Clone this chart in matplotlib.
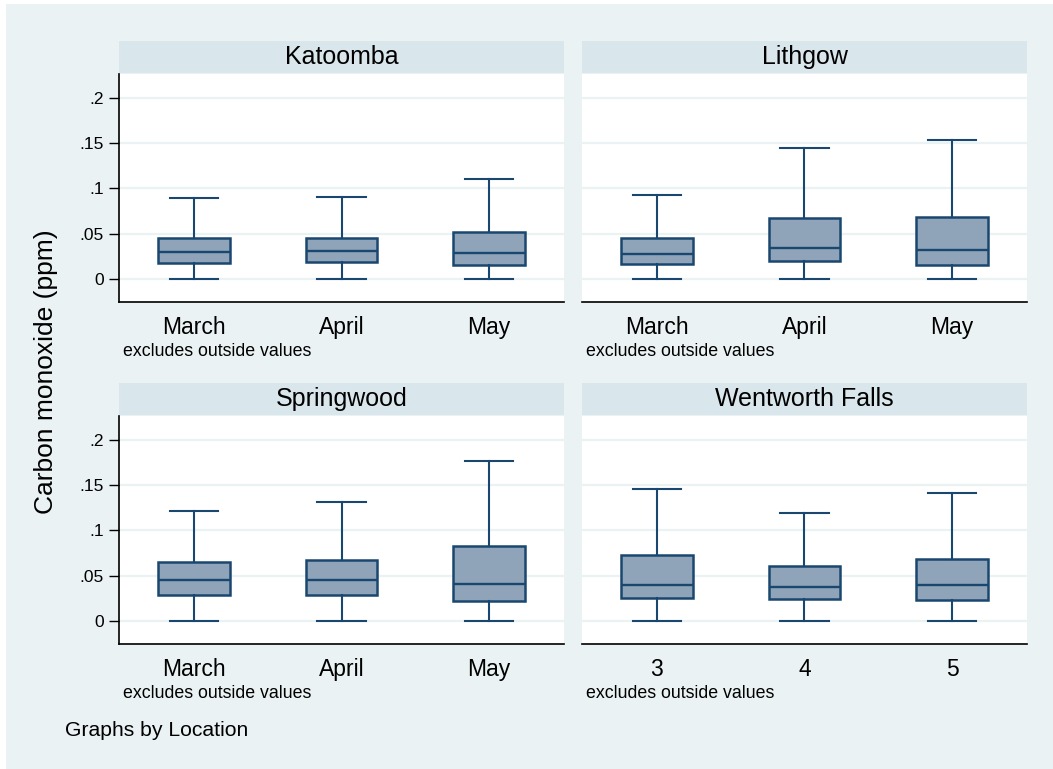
"""Carbon monoxide by month, one box plot panel per location (Stata s2color look)."""
import matplotlib
matplotlib.use("Agg")
import matplotlib.pyplot as plt
from matplotlib.patches import Rectangle

plt.rcParams["font.family"] = ["Liberation Sans", "DejaVu Sans"]

BG = "#eaf2f3"
STRIP = "#d9e6eb"
GRID = "#eaf2f3"
EDGE = "#1a476f"
FILL = "#8fa4b8"

locations = ["Katoomba", "Lithgow", "Springwood", "Wentworth Falls"]
month_labels = [["March", "April", "May"], ["March", "April", "May"],
                ["March", "April", "May"], ["3", "4", "5"]]

# box statistics (ppm): lower whisker, Q1, median, Q3, upper whisker
whis_lo = [[0.0, 0.0, 0.0], [0.0, 0.0, 0.0], [0.0, 0.0, 0.0], [0.0, 0.0, 0.0]]
q1 = [[0.018, 0.019, 0.016], [0.017, 0.020, 0.016],
      [0.029, 0.029, 0.022], [0.026, 0.024, 0.023]]
median = [[0.030, 0.031, 0.029], [0.028, 0.034, 0.032],
          [0.045, 0.045, 0.041], [0.040, 0.038, 0.040]]
q3 = [[0.045, 0.046, 0.052], [0.046, 0.068, 0.069],
      [0.065, 0.068, 0.083], [0.073, 0.061, 0.069]]
whis_hi = [[0.090, 0.091, 0.110], [0.093, 0.144, 0.153],
           [0.121, 0.131, 0.176], [0.146, 0.119, 0.141]]

yticks = [0, 0.05, 0.1, 0.15, 0.2]
ytick_labels = ["0", ".05", ".1", ".15", ".2"]

W, H = 1053, 769
fig = plt.figure(figsize=(W / 100, H / 100), dpi=100, facecolor="white")
fig.patches.append(Rectangle((6 / W, 0), 1 - 6 / W, 1 - 4 / H, transform=fig.transFigure,
                             facecolor=BG, edgecolor="none", zorder=-10))

lefts = [119, 582, 119, 582]
tops = [74, 74, 416, 416]
pw, ph, sh = 445, 228, 32

for k, loc in enumerate(locations):
    x0, y0 = lefts[k], tops[k]
    ax = fig.add_axes([x0 / W, 1 - (y0 + ph) / H, pw / W, ph / H])
    ax.set_facecolor("white")

    stats = []
    for i in range(3):
        stats.append(dict(whislo=whis_lo[k][i], q1=q1[k][i], med=median[k][i],
                          q3=q3[k][i], whishi=whis_hi[k][i], fliers=[]))
    ax.bxp(stats, positions=[1, 2, 3], widths=0.485, capwidths=0.327,
           showfliers=False, patch_artist=True,
           boxprops=dict(facecolor=FILL, edgecolor=EDGE, linewidth=1.8),
           medianprops=dict(color=EDGE, linewidth=1.7),
           whiskerprops=dict(color=EDGE, linewidth=1.5),
           capprops=dict(color=EDGE, linewidth=1.5), zorder=3)

    ax.set_xlim(0.492, 3.508)
    ax.set_ylim(-0.025, 0.226)
    ax.set_yticks(yticks)
    for y in yticks:
        ax.axhline(y, color=GRID, lw=1.6, zorder=1)

    ax.set_xticks([1, 2, 3])
    ax.set_xticklabels(month_labels[k], fontsize=16.5)
    ax.tick_params(axis="x", length=0, pad=10)

    for s in ["top", "right"]:
        ax.spines[s].set_visible(False)
    ax.spines["bottom"].set_linewidth(1.2)
    if k % 2 == 0:
        ax.set_yticklabels(ytick_labels, fontsize=12.5)
        ax.tick_params(axis="y", length=7, width=1.0, pad=4)
        ax.spines["left"].set_linewidth(1.2)
    else:
        ax.spines["left"].set_visible(False)
        ax.tick_params(axis="y", length=0, labelleft=False)

    # location strip above each panel
    fig.patches.append(Rectangle((x0 / W, 1 - (y0 - 1) / H), pw / W, sh / H,
                                 transform=fig.transFigure, facecolor=STRIP,
                                 edgecolor="none", zorder=-5))
    fig.text((x0 + pw / 2) / W, 1 - (y0 - 1 - sh / 2) / H, loc, fontsize=18,
             ha="center", va="center")

    fig.text((x0 + 4) / W, 1 - (y0 + ph + 49) / H, "excludes outside values",
             fontsize=12.8, ha="left", va="center")

fig.text(46 / W, 1 - 372 / H, "Carbon monoxide (ppm)", rotation=90, fontsize=19,
         ha="center", va="center")
fig.text(65 / W, 1 - 730 / H, "Graphs by Location", fontsize=15.2, ha="left", va="center")

fig.savefig("out.png", dpi=100, facecolor=fig.get_facecolor())
